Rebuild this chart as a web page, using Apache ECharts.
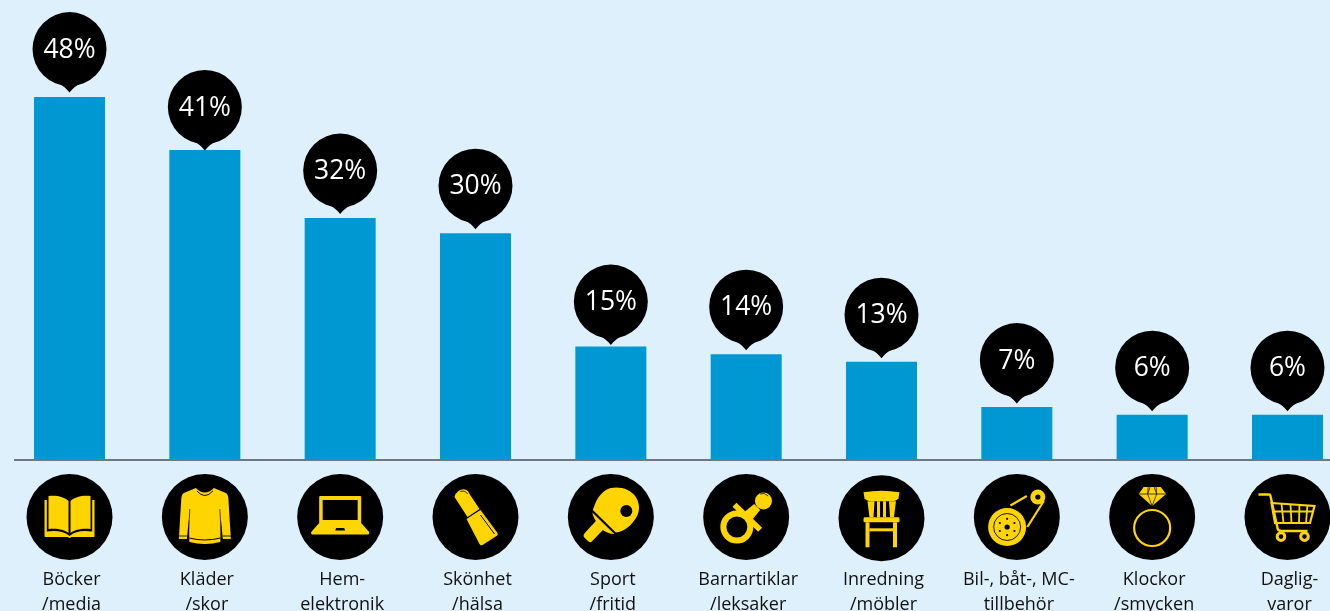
<!DOCTYPE html>
<html><head><meta charset="utf-8">
<style>html,body{margin:0;padding:0;background:#DDF0FB;overflow:hidden}#c{width:1330px;height:611px}</style>
<script src="https://cdn.jsdelivr.net/npm/echarts@6/dist/echarts.min.js"></script>
</head><body><div id="c"></div>
<script>
const categories = ['Böcker\n/media','Kläder\n/skor','Hem-\nelektronik','Skönhet\n/hälsa','Sport\n/fritid','Barnartiklar\n/leksaker','Inredning\n/möbler','Bil-, båt-, MC-\ntillbehör','Klockor\n/smycken','Daglig-\nvaror'];
const values = [48,41,32,30,15,14,13,7,6,6];
const pinLift = [48,43,47.5,47.5,45,47.5,47,47,47,47];
const iconDrop = [57,57,57,57,57,57,58.3,57,57,57];

const Y='#FFD500', K='#000000';
const circ=(x,y,r)=>`M${x-r} ${y}A${r} ${r} 0 1 0 ${x+r} ${y}A${r} ${r} 0 1 0 ${x-r} ${y}Z`;
const F=(c,d)=>({fill:c,d});
const S=(c,w,d)=>({stroke:c,w,d});
const icons = [
 [ // book
  F(Y,'M-25 -17H-22.7V14.5C-13 13 -5 14.5 0 19C5 14.5 13 13 22.7 14.5V-17H25V19Q25 20 24 20H2L0 21L-2 20H-24Q-25 20 -25 19Z'),
  F(Y,'M-21 -21C-13 -22 -5 -20 -1 -16V16C-5 12.5 -13 11 -21 12Z'),
  F(Y,'M21 -21C13 -22 5 -20 1 -16V16C5 12.5 13 11 21 12Z')
 ],
 [ // sweater
  F(Y,'M-9 -29Q0 -20 9 -29L21 -24Q23 -23 23.5 -19L26 22H18L16 2L15.5 25Q0 29 -15.5 25L-16 2L-18 22H-26L-23.5 -19Q-23 -23 -21 -24Z'),
  S(K,1,'M-8 -26Q0 -17 8 -26'),
  S(K,1,'M-15.5 21Q0 25 15.5 21'),
  S(K,0.8,'M-26 19H-18M18 19H26'),
  S(K,0.7,'M15 -8L16.5 20M-15 -8L-16.5 20')
 ],
 [ // laptop
  F(Y,'M-20 -21H20Q21 -21 21 -20V6H-21V-20Q-21 -21 -20 -21Z'),
  F(K,'M-17.5 -17H17.5V3H-17.5Z'),
  F(Y,'M-21 6H21L29 15Q29.5 17 28 17.5H-28Q-29.5 17 -29 15Z'),
  F(K,'M-4 11H4L5 13.5H-5Z')
 ],
 [ // lipstick
  F(Y,'M-21 -20Q-20 -24 -17 -26Q-13 -29 -9 -27Q-7 -26 -6 -23L4 -8L-8 0Z'),
  S(K,0.8,'M-15 -25.5Q-10 -27 -8 -23'),
  F(Y,'M-9 2L5 -7L22 16Q23 18 21 19L7 28Q5 29 4 27Z'),
  S(K,1,'M5 -2L19 17')
 ],
 [ // paddle
  F(Y,'M-18 -7C-14 -20 -8 -27 0 -29C9 -31 20 -28 25 -20C30 -12 29 -3 23 4C18 11 11 15 5 15.5Z'),
  F(K,circ(15.5,-6,6)),
  F(Y,'M-18.5 -4.5L3.5 17C-1 17 -5 15 -8 13L-19 24.5Q-21 26 -23 24L-27 20Q-28 18 -26 16L-15 4C-17 1 -18 -2 -18.5 -4.5Z')
 ],
 [ // pacifier
  S(Y,6,circ(-9.3,10,13.5)),
  S(Y,5.7,'M-11.7 -12.3L14 12.7'),
  F(Y,'M-3 -4L8 -13L14 -7L5 4Z'),
  F(Y,circ(17.3,-16,8.5)),
  S(K,0.8,'M14 -23Q18 -25 22 -21')
 ],
 [ // chair
  F(Y,'M-18 -26Q0 -29 18 -26L17 -20Q15 -17 10 -17H-10Q-15 -17 -17 -20Z'),
  F(Y,'M-14 -17H-7L-8 -1H-12Z'),
  F(Y,'M-4.5 -17H-1.5V-1H-4.5Z'),
  F(Y,'M1.5 -17H4.5V-1H1.5Z'),
  F(Y,'M7.5 -17H14.5L12.5 -1H8.5Z'),
  F(Y,'M-17 -1H17Q18 -1 18 1V3Q18 4 17 4H-17Q-18 4 -18 3V1Q-18 -1 -17 -1Z'),
  F(Y,'M-16 4H-12V29H-16Z'),
  F(Y,'M11.5 4H15.5V29H11.5Z'),
  F(Y,'M-12 10H12V13H-12Z')
 ],
 [ // pulley
  F(Y,circ(-9.7,10,19)),
  S(K,0.9,circ(-9.7,10,13.5)),
  F(K,circ(-9.7,10,2.6)),
  F(K,circ(-9.7,1.8,1.1)),F(K,circ(-9.7,18.2,1.1)),
  F(K,circ(-17,6,1.1)),F(K,circ(-2.4,6,1.1)),
  F(K,circ(-17,14,1.1)),F(K,circ(-2.4,14,1.1)),
  S(Y,2.2,'M27 -16L10.5 10'),
  S(Y,2.2,'M10 -21L-6.4 -11.5'),
  F(Y,circ(21,-20,7.5)),
  F(K,circ(21,-20,2.6))
 ],
 [ // ring
  F(Y,'M-13.5 -23L-8.5 -30H8.5L14 -23L0 -11Z'),
  S(K,0.7,'M-13.5 -23H14M-4 -30L-4.5 -23L0 -11L4.5 -23L4 -30M-4.5 -23L-2 -30M4.5 -23L2 -30'),
  S(Y,2.2,circ(0,11,18))
 ],
 [ // cart
  S(Y,2.4,'M-29 -22.5H-18Q-17.5 -22.5 -17 -21L-10 11Q-9.5 14 -6 14H20'),
  S(Y,2.2,'M-16 -14L27 -11L22.5 6H-12.5Z'),
  S(Y,1.8,'M-14.5 -5.5H25M-6 -13.5L-4 6M3 -13L4 6M12 -12.5L11.5 6M20 -12L18.5 6'),
  S(Y,3,circ(-6.5,19.6,3.8)),
  S(Y,3,circ(17,19.6,3.8))
 ]
];

const BOX='M-43 -43M43 43';
function glyph(p){
  const style = p.fill ? {fill:p.fill} : {fill:'none',stroke:p.stroke,lineWidth:p.w};
  return {type:'path',shape:{pathData:BOX+p.d,x:-43,y:-43,width:86,height:86,layout:'cover'},style};
}
const chart = echarts.init(document.getElementById('c'),null,{renderer:'canvas'});
chart.setOption({
  animation:false,
  backgroundColor:'#DDF0FB',
  grid:{left:1.85,top:6.4,width:1353.3,height:453.6,containLabel:false,outerBoundsMode:'none'},
  xAxis:{type:'category',data:categories,
    axisLine:{show:false},axisTick:{show:false},
    axisLabel:{interval:0,margin:107,fontFamily:'Open Sans',fontSize:18,lineHeight:25,color:'#111111',padding:[0,0,0,4],hideOverlap:false}},
  yAxis:{type:'value',min:0,max:60,show:false,splitLine:{show:false}},
  graphic:[{type:'line',z:10,shape:{x1:14,y1:460,x2:1330,y2:460},style:{stroke:'#6d7882',lineWidth:2}}],
  series:[
    {type:'bar',data:values,barWidth:71,itemStyle:{color:'#0098D3'},z:2},
    {type:'custom',z:5,clip:false,data:values.map((v,i)=>[i,v]),
     encode:{x:0,y:1},
     renderItem(params,api){
       const i=api.value(0);
       const p=api.coord([i,api.value(1)]);
       return {type:'group',x:p[0],y:p[1]-pinLift[i],children:[
         {type:'circle',shape:{cx:0,cy:0,r:37},style:{fill:K}},
         {type:'path',shape:{pathData:'M-43 0M43 50M-12 34Q-5 37 0 43.5Q5 37 12 34Z',x:-43,y:0,width:86,height:50,layout:'cover'},style:{fill:K}},
         {type:'text',style:{x:0,y:1,text:api.value(1)+'%',fill:'#ffffff',fontFamily:'Open Sans',fontSize:26.5,align:'center',verticalAlign:'middle'}}
       ]};
     }},
    {type:'custom',z:5,clip:false,data:values.map((v,i)=>[i,0]),
     encode:{x:0,y:1},
     renderItem(params,api){
       const i=api.value(0);
       const p=api.coord([i,0]);
       return {type:'group',x:p[0],y:p[1]+iconDrop[i],children:[
         {type:'circle',shape:{cx:0,cy:0,r:43},style:{fill:K}}
       ].concat(icons[i].map(glyph))};
     }}
  ]
});
</script></body></html>
